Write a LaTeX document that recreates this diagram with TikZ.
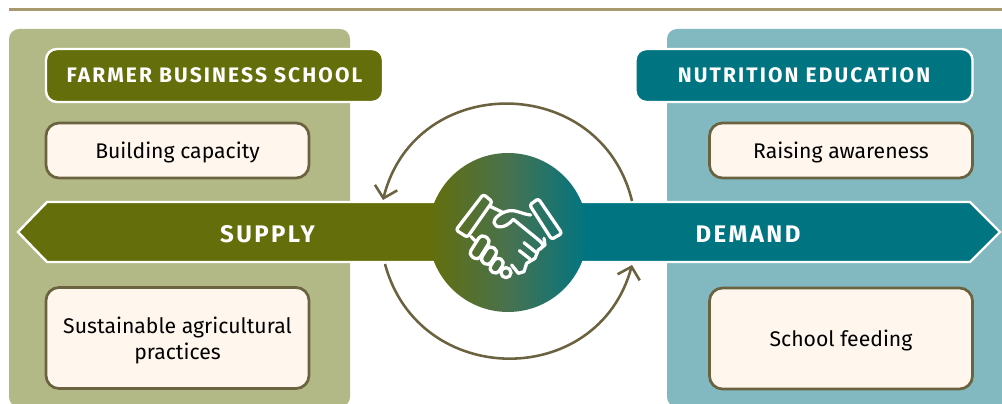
\documentclass[tikz,border=0pt]{standalone}
\usepackage{fontspec}
\setmainfont{Fira Sans}
\newfontfamily\spacedfont[LetterSpace=10]{Fira Sans}
\usetikzlibrary{arrows.meta, positioning}
\definecolor{Olive}{HTML}{646E0A}
\definecolor{DarkTeal}{HTML}{007582}
\definecolor{MidGreen}{HTML}{48724F}
\definecolor{PaleOlive}{HTML}{B2B986}
\definecolor{PaleTeal}{HTML}{82B9C0}
\definecolor{Cream}{HTML}{FFF7ED}
\definecolor{Umber}{HTML}{6B623F}
\definecolor{Tan}{HTML}{A89A6E}
\newcommand{\toppad}{\rule{0pt}{21.5pt}}
\tikzset{
  panel/.style={rounded corners=10pt},
  banner/.style={rectangle, draw=white, line width=0.85mm, rounded corners=11pt, text=white, minimum width=337pt, minimum height=53pt, inner sep=0pt, font=\spacedfont\bfseries\fontsize{21}{24}\selectfont},
  band/.style={draw=white, line width=0.85mm},
  bandlabel/.style={text=white, inner sep=0pt, font=\spacedfont\bfseries\fontsize{24}{28}\selectfont},
  task/.style={rectangle, draw=Umber, fill=Cream, line width=0.95mm, rounded corners=13pt, minimum width=263pt, inner sep=0pt, align=center, font=\fontsize{21.2}{26.5}\selectfont},
  cycle/.style={draw=Umber, line width=0.90mm, -{Straight Barb[length=11pt,width=23pt]}},
  hand/.style={draw=white, line width=1.15mm, line join=round, line cap=round}
}
\begin{document}
\begin{tikzpicture}[x=1pt,y=1pt]
    \clip (0,0) rectangle (1002,404);
    \fill [Tan] (9,393.2) rectangle (1002,396.2);
    \fill [PaleOlive, panel] (9,-3) rectangle (350,375);
    \fill [PaleTeal, panel] (667,-3) rectangle (1030,375);

    \node [banner, fill=Olive] (farmer) at (214.5,328.5) {FARMER BUSINESS SCHOOL};
    \node [banner, fill=DarkTeal] (nutrition) at (804,328.5) {NUTRITION EDUCATION};
    \node [task, minimum height=55pt] (capacity) at (177.5,253.5) {\toppad Building capacity};
    \node [task, minimum height=101pt] (practices) at (177.5,66) {\toppad Sustainable agricultural\\practices};
    \node [task, minimum height=55pt] (awareness) at (841,253.5) {\toppad Raising awareness};
    \node [task, minimum height=101pt] (feeding) at (841,65.5) {\toppad School feeding};

    \draw [band, fill=Olive] (508,202) -- (47,202) -- (18,172) -- (47,142) -- (508,142) -- cycle;
    \draw [band, fill=DarkTeal] (508,202) -- (970,202) -- (1000,172) -- (970,142) -- (508,142) -- cycle;
    \node [bandlabel] (supply) at (267.5,169.5) {SUPPLY};
    \node [bandlabel] (demand) at (748,169.5) {DEMAND};

    \node [circle, left color=Olive, right color=DarkTeal, middle color=MidGreen, minimum size=159pt, inner sep=0pt] (hub) at (508,171.5) {};

    \coordinate (upstart) at (632,203);
    \coordinate (upend) at (383,204);
    \coordinate (lowstart) at (385,140);
    \coordinate (lowend) at (632,139);
    \draw [cycle] (upstart) to [out=103.6, in=76, looseness=1.36] (upend);
    \draw [cycle] (lowstart) to [out=-75, in=-105.3, looseness=1.34] (lowend);

    % handshake
    \begin{scope}[shift={(370,314)},x=0.3333pt,y=-0.3333pt]
    \draw [hand, rounded corners=2.5pt] (340,313) -- (367,335) -- (292,442) -- (258,420) -- cycle;
    \draw [hand, rounded corners=2.5pt] (505,326) -- (576,430) -- (545,448) -- (479,345) -- cycle;
    \draw [hand] (362,350) -- (398,367);
    \draw [hand] (303,440) -- (318,455);
    \draw [hand] (482,375) .. controls (455,372) and (440,360) .. (420,362) .. controls (395,365) and (370,385) .. (372,398) .. controls (375,415) and (405,418) .. (430,388) -- (500,445) .. controls (520,462) and (525,465) .. (510,478);
    \draw [hand] (522,445) -- (525,465) -- (505,480) -- (495,505) -- (470,520) -- (462,545) -- (445,550) -- (425,525);
    \draw [hand] (462,458) -- (498,487);
    \draw [hand] (448,482) -- (480,507);
    \foreach \fx/\fy/\fl/\fw in {329/472/36/17, 357/497/27/16, 380/527/23/15}
      \draw [hand, rounded corners=4.5pt, shift={(\fx,\fy)}, rotate=58] (-\fl,-\fw) rectangle (\fl,\fw);
    \draw [hand] (408,548) circle [radius=15];
    \end{scope}
\end{tikzpicture}
\end{document}
